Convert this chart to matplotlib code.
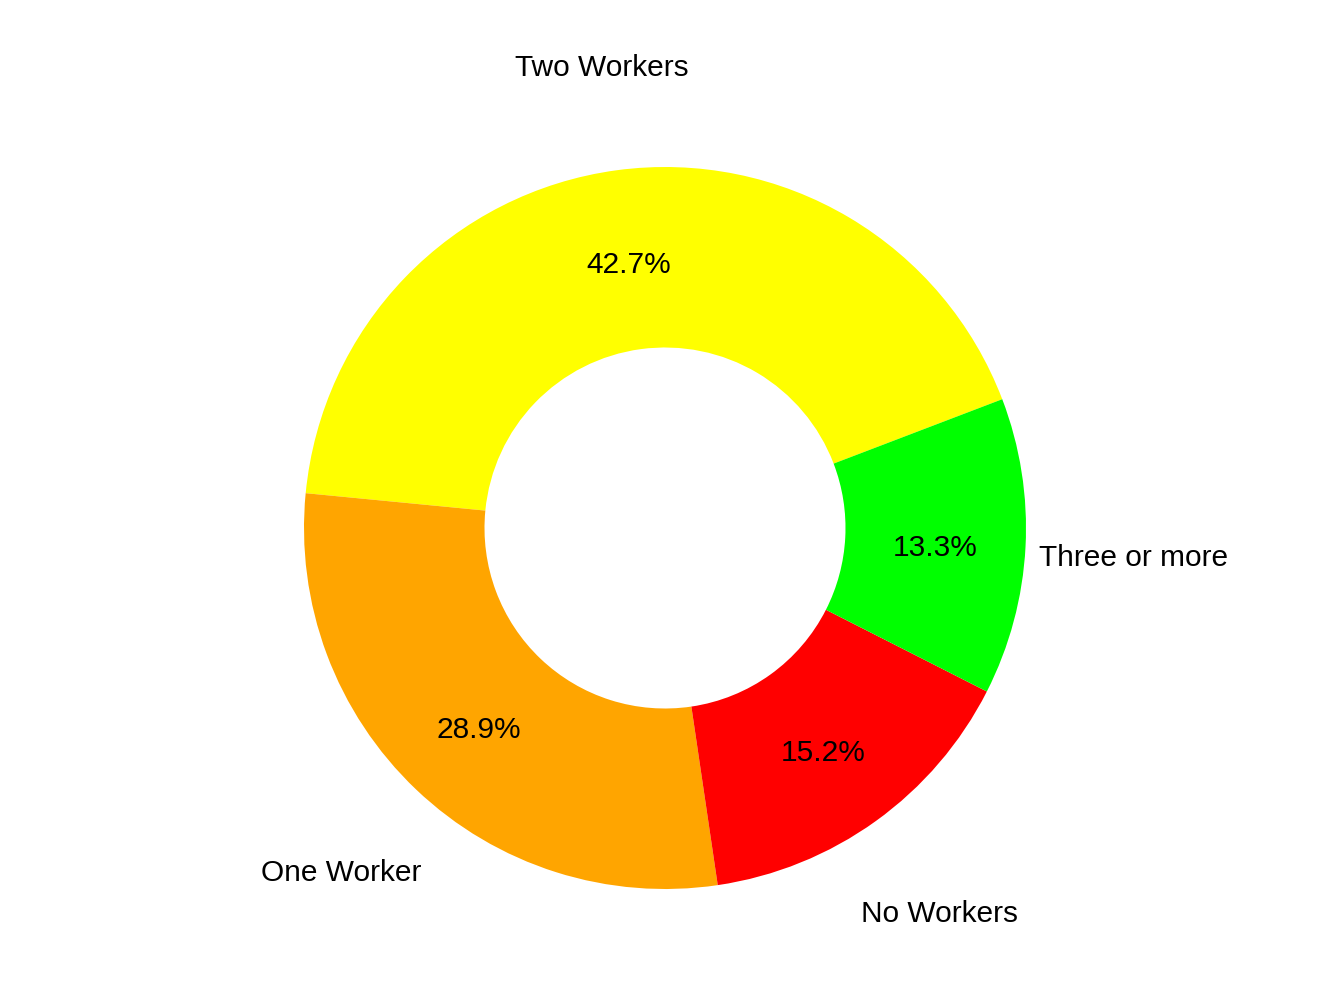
import numpy as np
import matplotlib.pyplot as plt

# donut data (counter-clockwise order starting at the yellow slice)
categories = ["Two Workers", "One Worker", "No Workers", "Three or more"]
shares = [42.7, 28.9, 15.2, 13.3]
pct_labels = ["42.7%", "28.9%", "15.2%", "13.3%"]
colors = ["#FFFF00", "#FFA500", "#FF0000", "#00FF00"]

plt.rcParams['font.family'] = ['Liberation Sans', 'DejaVu Sans']

fig = plt.figure(figsize=(13.44, 10.08), dpi=100)
ax = fig.add_axes([0, 0, 1, 1])

start = 20.9
wedges, _ = ax.pie(shares, colors=colors, startangle=start, counterclock=True,
                   radius=1.0, wedgeprops=dict(width=0.5, linewidth=0))

# percent labels in the ring, category labels outside
total = sum(shares)
angle = start
dy = -0.015  # text sits a touch lower than the geometric position
for name, val, pct in zip(categories, shares, pct_labels):
    span = 360.0 * val / total
    mid = np.deg2rad(angle + span / 2)
    ax.text(0.75 * np.cos(mid), 0.75 * np.sin(mid) + dy, pct,
            ha="center", va="center", fontsize=21.5)
    ax.text(1.30 * np.cos(mid), 1.30 * np.sin(mid) + dy, name,
            ha="center", va="center", fontsize=21.5)
    angle += span

# 1 unit = 361 px, centre at (665, 528) px
ax.set_xlim(-665 / 361, (1344 - 665) / 361)
ax.set_ylim(-(1008 - 528) / 361, 528 / 361)
ax.set_aspect("auto")
ax.axis("off")

fig.savefig("out.png", dpi=100)
